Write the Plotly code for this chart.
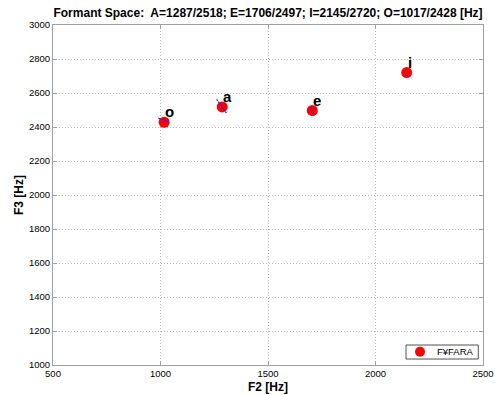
import plotly.graph_objects as go

vowels = ["a", "e", "i", "o"]
f2 = [1287, 1706, 2145, 1017]
f3 = [2518, 2497, 2720, 2428]
series_name = "F¥FARA"
title_text = "Formant Space:  A=1287/2518; E=1706/2497; I=2145/2720; O=1017/2428 [Hz]"

# small blue spread segments around vowel centres (estimated)
spread_x = [[1261, 1308], [1700, 1712], [2140, 2150], [990, 1038]]
spread_y = [[2563, 2479], [2520, 2478], [2704, 2700], [2452, 2429]]

x_ticks = [500, 1000, 1500, 2000, 2500]
y_ticks = [1000, 1200, 1400, 1600, 1800, 2000, 2200, 2400, 2600, 2800, 3000]

FONT = "Liberation Sans, Arial, sans-serif"

fig = go.Figure()
fig.add_trace(go.Scatter(x=f2, y=f3, mode="markers", name=series_name,
                         marker=dict(color="#ff0000", size=11, line=dict(width=0)),
                         showlegend=False))
for sx, sy in zip(spread_x, spread_y):
    fig.add_trace(go.Scatter(x=sx, y=sy, mode="lines",
                             line=dict(color="#2a2aff", width=1.3, dash="2px,1px"),
                             showlegend=False, hoverinfo="skip"))

for v, x, y in zip(vowels, f2, f3):
    fig.add_annotation(x=x, y=y, text="<b>%s</b>" % v, showarrow=False,
                       xanchor="left", yanchor="bottom", xshift=-1, yshift=0,
                       font=dict(family=FONT, size=15, color="black"))

# legend box drawn in paper coordinates
fig.add_shape(type="rect", xref="paper", yref="paper",
              x0=0.821, x1=0.989, y0=0.0176, y1=0.0588,
              line=dict(color="#505050", width=1), fillcolor="white", layer="above")
fig.add_shape(type="circle", xref="paper", yref="paper",
              xsizemode="pixel", ysizemode="pixel",
              xanchor=0.8535, yanchor=0.0391, x0=-5, x1=5, y0=-5, y1=5,
              line=dict(width=0), fillcolor="#ff0000", layer="above")
fig.add_annotation(xref="paper", yref="paper", x=0.8884, y=0.0391,
                   text=series_name, showarrow=False, xanchor="left", yanchor="middle",
                   font=dict(family=FONT, size=9.5, color="black"))

axis_common = dict(showline=True, linecolor="#a0a0a0", linewidth=1, mirror="ticks",
                   ticks="inside", ticklen=4, tickcolor="#a0a0a0",
                   showgrid=True, gridcolor="#b8b8b8", griddash="1px,2px", gridwidth=1,
                   zeroline=False, automargin=False,
                   tickfont=dict(family=FONT, size=9.5, color="black"))

fig.update_layout(
    width=495, height=395,
    margin=dict(l=53, r=12, t=25, b=30),
    paper_bgcolor="white", plot_bgcolor="white",
    title=dict(text="<b>" + title_text + "</b>", x=0.5415, xanchor="center",
               y=1 - 12.5 / 395, yanchor="middle",
               font=dict(family=FONT, size=12, color="black")),
    xaxis=dict(range=[500, 2500], tickvals=x_ticks,
               title=dict(text="<b>F2 [Hz]</b>", standoff=4,
                          font=dict(family=FONT, size=12, color="black")),
               **axis_common),
    yaxis=dict(range=[1000, 3000], tickvals=y_ticks,
               title=dict(text="<b>F3 [Hz]</b>", standoff=2,
                          font=dict(family=FONT, size=12, color="black")),
               **axis_common),
    showlegend=False,
)

fig.write_html("out.html")
